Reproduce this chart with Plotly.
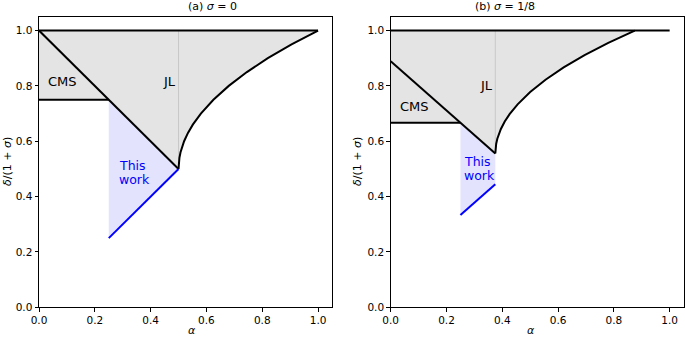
import plotly.graph_objects as go

# ---------------- data ----------------
# panel (a): sigma = 0
top_a_x = [0.0, 1.0]
top_a_y = [1.0, 1.0]
cms_a_x = [0.0, 0.25]
cms_a_y = [0.75, 0.75]
diag_a_x = [0.0, 0.25, 0.5]
diag_a_y = [1.0, 0.75, 0.5]
jl_a_x = [0.5, 0.5002, 0.5008, 0.5032, 0.5072, 0.5128, 0.52, 0.5338, 0.5512,
          0.58, 0.625, 0.68, 0.745, 0.82, 0.905, 1.0]
jl_a_y = [0.5, 0.51, 0.52, 0.54, 0.56, 0.58, 0.6, 0.63, 0.66,
          0.7, 0.75, 0.8, 0.85, 0.9, 0.95, 1.0]
work_a_x = [0.25, 0.5]
work_a_y = [0.25, 0.5]
split_a = 0.5

# panel (b): sigma = 1/8
top_b_x = [0.0, 1.0]
top_b_y = [1.0, 1.0]
cms_b_x = [0.0, 0.25]
cms_b_y = [0.6667, 0.6667]
diag_b_x = [0.0, 0.25, 0.375]
diag_b_y = [0.8889, 0.6667, 0.5556]
jl_b_x = [0.375, 0.3752, 0.3758, 0.3782, 0.3822, 0.3878, 0.395, 0.4088, 0.4262,
          0.455, 0.5, 0.555, 0.62, 0.695, 0.78, 0.875]
jl_b_y = [0.5556, 0.5644, 0.5733, 0.5911, 0.6089, 0.6267, 0.6444, 0.6711, 0.6978,
          0.7333, 0.7778, 0.8222, 0.8667, 0.9111, 0.9556, 1.0]
work_b_x = [0.25, 0.375]
work_b_y = [0.3333, 0.4444]
split_b = 0.375

tick_vals = [0.0, 0.2, 0.4, 0.6, 0.8, 1.0]
tick_text = ["0.0", "0.2", "0.4", "0.6", "0.8", "1.0"]

GRAY_FILL = "#e4e4e4"
BLUE_FILL = "#e3e3fd"
FONT = "DejaVu Sans"

fig = go.Figure()


def add_panel(xa, ya, top_x, top_y, cms_x, cms_y, diag_x, diag_y, jl_x, jl_y,
              work_x, work_y, split):
    # gray region: top line, JL curve back, diagonal, CMS horizontal
    jl_end = jl_x[-1]
    gx = [0.0, jl_end] + jl_x[::-1] + diag_x[::-1][1:] + cms_x[::-1]
    gy = [top_y[0], top_y[0]] + jl_y[::-1] + diag_y[::-1][1:] + cms_y[::-1]
    fig.add_trace(go.Scatter(x=gx, y=gy, mode="lines", fill="toself",
                             fillcolor=GRAY_FILL, line=dict(width=0),
                             xaxis=xa, yaxis=ya, hoverinfo="skip"))
    # blue region
    bx = [work_x[0], work_x[1], diag_x[-1], diag_x[1]]
    by = [work_y[0], work_y[1], diag_y[-1], diag_y[1]]
    fig.add_trace(go.Scatter(x=bx, y=by, mode="lines", fill="toself",
                             fillcolor=BLUE_FILL, line=dict(width=0),
                             xaxis=xa, yaxis=ya, hoverinfo="skip"))
    # thin gray divider
    fig.add_trace(go.Scatter(x=[split, split], y=[diag_y[-1], top_y[0]],
                             mode="lines", line=dict(color="#c8c8c8", width=1),
                             xaxis=xa, yaxis=ya, hoverinfo="skip"))
    # black boundaries
    for xs, ys in [(top_x, top_y), (cms_x, cms_y), (diag_x, diag_y), (jl_x, jl_y)]:
        fig.add_trace(go.Scatter(x=xs, y=ys, mode="lines",
                                 line=dict(color="black", width=2),
                                 xaxis=xa, yaxis=ya, hoverinfo="skip"))
    # blue line
    fig.add_trace(go.Scatter(x=work_x, y=work_y, mode="lines",
                             line=dict(color="#0000ff", width=2),
                             xaxis=xa, yaxis=ya, hoverinfo="skip"))


add_panel("x", "y", top_a_x, top_a_y, cms_a_x, cms_a_y, diag_a_x, diag_a_y,
          jl_a_x, jl_a_y, work_a_x, work_a_y, split_a)
add_panel("x2", "y2", top_b_x, top_b_y, cms_b_x, cms_b_y, diag_b_x, diag_b_y,
          jl_b_x, jl_b_y, work_b_x, work_b_y, split_b)

axis_common = dict(range=[0, 1.05], showgrid=False, zeroline=False,
                   showline=True, mirror=True, linecolor="black", linewidth=1,
                   ticks="outside", ticklen=3.5, tickwidth=1, tickcolor="black",
                   tickvals=tick_vals, ticktext=tick_text, automargin=False,
                   tickfont=dict(family=FONT, size=10.5, color="black"))

W, H = 685, 337
y0 = (H - 307.3) / H
y1 = (H - 16.7) / H

fig.update_layout(
    width=W, height=H, margin=dict(l=0, r=0, t=0, b=0, autoexpand=False),
    paper_bgcolor="white", plot_bgcolor="white", showlegend=False,
    font=dict(family=FONT, color="black"),
    xaxis=dict(domain=[39 / W, 332 / W], anchor="y", **axis_common),
    yaxis=dict(domain=[y0, y1], anchor="x", **axis_common),
    xaxis2=dict(domain=[390.7 / W, 683.6 / W], anchor="y2", **axis_common),
    yaxis2=dict(domain=[y0, y1], anchor="x2", **axis_common),
)

ann = []
txt_font = dict(family=FONT, size=13, color="black")
blue_font = dict(family=FONT, size=12.5, color="#0000ff")
# panel texts
ann += [
    dict(x=0.083, y=0.815, xref="x", yref="y", text="CMS", showarrow=False, font=txt_font),
    dict(x=0.468, y=0.815, xref="x", yref="y", text="JL", showarrow=False, font=txt_font),
    dict(x=0.28, y=0.511, xref="x", yref="y", text="This", showarrow=False,
         xanchor="left", font=blue_font),
    dict(x=0.28, y=0.462, xref="x", yref="y", text="work", showarrow=False,
         xanchor="left", font=blue_font),
    dict(x=0.0845, y=0.725, xref="x2", yref="y2", text="CMS", showarrow=False, font=txt_font),
    dict(x=0.342, y=0.80, xref="x2", yref="y2", text="JL", showarrow=False, font=txt_font),
    dict(x=0.255, y=0.526, xref="x2", yref="y2", text="This", showarrow=False,
         xanchor="left", font=blue_font),
    dict(x=0.255, y=0.478, xref="x2", yref="y2", text="work", showarrow=False,
         xanchor="left", font=blue_font),
]
# titles
title_font = dict(family=FONT, size=11, color="black")
ann += [
    dict(x=185.5 / W, y=1 - 6.5 / H, xref="paper", yref="paper",
         text="(a) <i>σ</i> = 0", showarrow=False, font=title_font, yanchor="middle"),
    dict(x=537 / W, y=1 - 6.5 / H, xref="paper", yref="paper",
         text="(b) <i>σ</i> = 1/8", showarrow=False, font=title_font, yanchor="middle"),
]
# axis labels
lab_font = dict(family=FONT, size=11, color="black")
ann += [
    dict(x=185.5 / W, y=1 - 330 / H, xref="paper", yref="paper", text="<i>α</i>",
         showarrow=False, font=lab_font, yanchor="middle"),
    dict(x=537 / W, y=1 - 330 / H, xref="paper", yref="paper", text="<i>α</i>",
         showarrow=False, font=lab_font, yanchor="middle"),
    dict(x=8 / W, y=1 - 162 / H, xref="paper", yref="paper",
         text="<i>δ</i>/(1 + <i>σ</i>)", textangle=-90,
         showarrow=False, font=lab_font, xanchor="center", yanchor="middle"),
    dict(x=358 / W, y=1 - 162 / H, xref="paper", yref="paper",
         text="<i>δ</i>/(1 + <i>σ</i>)", textangle=-90,
         showarrow=False, font=lab_font, xanchor="center", yanchor="middle"),
]
fig.update_layout(annotations=ann)

fig.write_html("out.html",
               config={"displayModeBar": False, "staticPlot": True},
               post_script="document.body.style.margin='0px';"
                           "document.body.style.overflow='hidden';")
